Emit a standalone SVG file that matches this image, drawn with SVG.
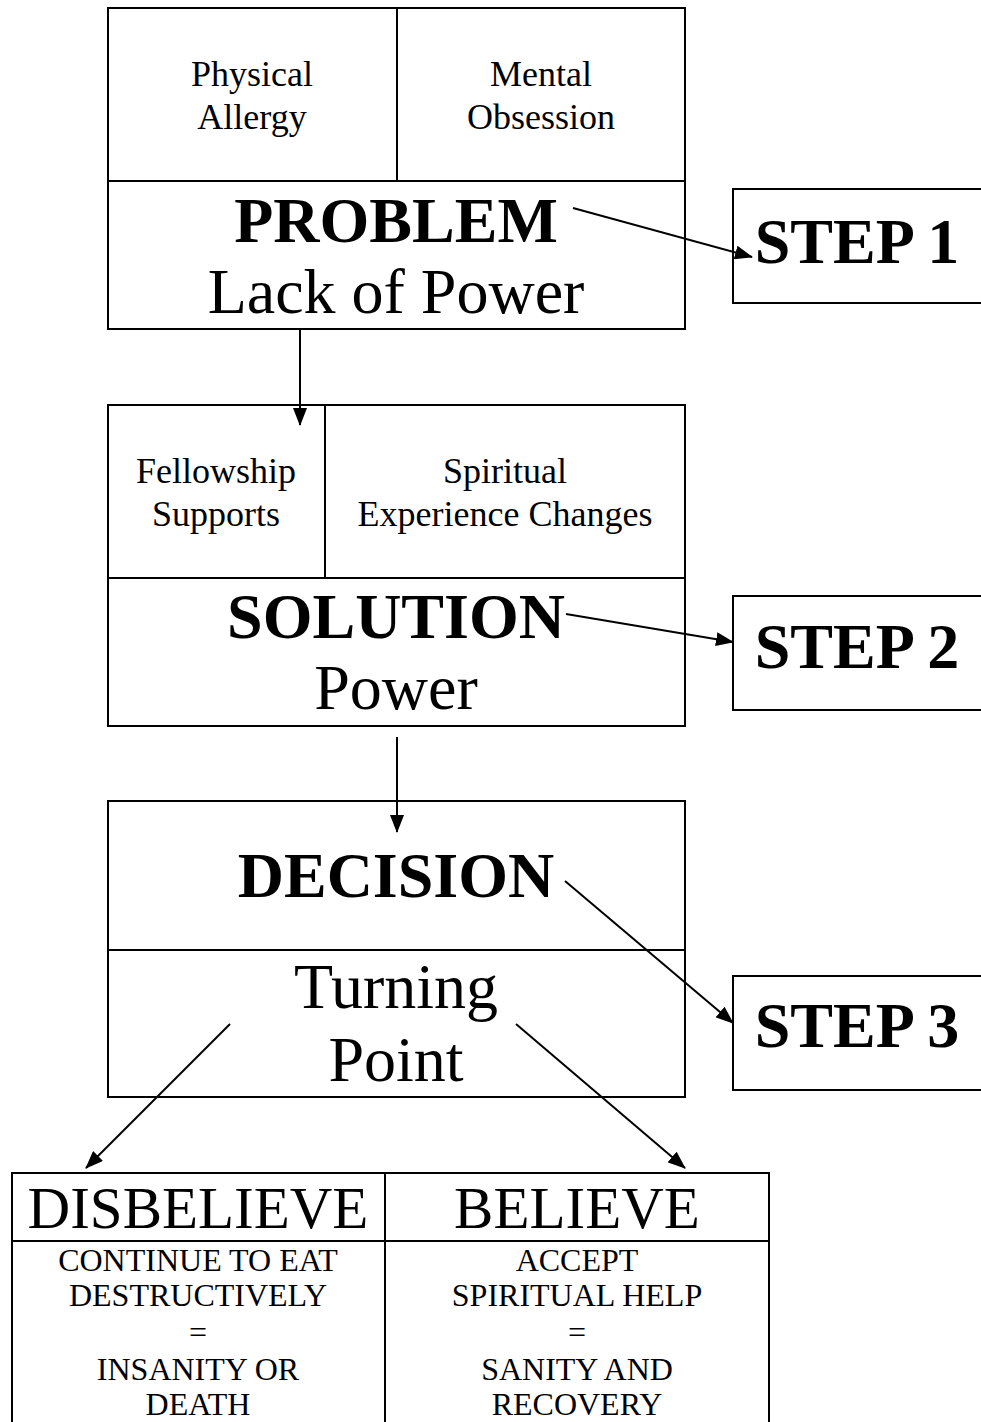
<svg xmlns="http://www.w3.org/2000/svg" width="981" height="1422" viewBox="0 0 981 1422">
<style>
.box{fill:none;stroke:#000;stroke-width:2}
.ln{stroke:#000;stroke-width:2;fill:none}
.t{font-family:"Liberation Serif","Times New Roman",serif;fill:#000;text-anchor:middle}
.s36{font-size:36px}
.s64{font-size:64px}
.b64{font-size:64px;font-weight:bold}
.s58{font-size:59px}
.s30{font-size:32px}
.con{stroke:#000;stroke-width:2;fill:none;marker-end:url(#ah)}
</style>
<defs>
<marker id="ah" viewBox="0 0 18 14" refX="17" refY="7" markerWidth="18" markerHeight="14" markerUnits="userSpaceOnUse" orient="auto">
<path d="M0,0 L18,7 L0,14 Z" fill="#000"/>
</marker>
</defs>
<rect width="981" height="1422" fill="#fff"/>

<g id="problem">
<rect class="box" x="108" y="8" width="577" height="321"/>
<line class="ln" x1="108" y1="181" x2="685" y2="181"/>
<line class="ln" x1="397" y1="8" x2="397" y2="181"/>
<text class="t s36" x="252" y="86">Physical</text>
<text class="t s36" x="252" y="129">Allergy</text>
<text class="t s36" x="541" y="86">Mental</text>
<text class="t s36" x="541" y="129">Obsession</text>
<text class="t b64" x="396" y="242">PROBLEM</text>
<text class="t s64" x="396" y="313">Lack of Power</text>
</g>

<g id="step1">
<rect class="box" x="733" y="189" width="260" height="114"/>
<text class="t b64" x="857" y="263">STEP 1</text>
</g>

<g id="solution">
<rect class="box" x="108" y="405" width="577" height="321"/>
<line class="ln" x1="108" y1="578" x2="685" y2="578"/>
<line class="ln" x1="325" y1="405" x2="325" y2="578"/>
<text class="t s36" x="216" y="483">Fellowship</text>
<text class="t s36" x="216" y="526">Supports</text>
<text class="t s36" x="505" y="483">Spiritual</text>
<text class="t s36" x="505" y="526">Experience Changes</text>
<text class="t b64" x="396" y="638">SOLUTION</text>
<text class="t s64" x="396" y="709">Power</text>
</g>

<g id="step2">
<rect class="box" x="733" y="596" width="260" height="114"/>
<text class="t b64" x="857" y="668">STEP 2</text>
</g>

<g id="decision">
<rect class="box" x="108" y="801" width="577" height="296"/>
<line class="ln" x1="108" y1="950" x2="685" y2="950"/>
<text class="t b64" x="396" y="897">DECISION</text>
<text class="t s64" x="396" y="1008">Turning</text>
<text class="t s64" x="396" y="1081">Point</text>
</g>

<g id="step3">
<rect class="box" x="733" y="976" width="260" height="114"/>
<text class="t b64" x="857" y="1047">STEP 3</text>
</g>

<g id="outcomes">
<rect class="box" x="12" y="1173" width="757" height="260"/>
<line class="ln" x1="12" y1="1241" x2="769" y2="1241"/>
<line class="ln" x1="385" y1="1173" x2="385" y2="1433"/>
<text class="t s58" x="198" y="1228">DISBELIEVE</text>
<text class="t s58" x="577" y="1228">BELIEVE</text>
<text class="t s30" x="198" y="1271">CONTINUE TO EAT</text>
<text class="t s30" x="198" y="1306">DESTRUCTIVELY</text>
<text class="t s30" x="198" y="1343">=</text>
<text class="t s30" x="198" y="1380">INSANITY OR</text>
<text class="t s30" x="198" y="1415">DEATH</text>
<text class="t s30" x="577" y="1271">ACCEPT</text>
<text class="t s30" x="577" y="1306">SPIRITUAL HELP</text>
<text class="t s30" x="577" y="1343">=</text>
<text class="t s30" x="577" y="1380">SANITY AND</text>
<text class="t s30" x="577" y="1415">RECOVERY</text>
</g>

<g id="connectors">
<line class="con" x1="573" y1="208" x2="752" y2="257"/>
<line class="con" x1="300" y1="330" x2="300" y2="425"/>
<line class="con" x1="566" y1="614" x2="733" y2="642"/>
<line class="con" x1="397" y1="737" x2="397" y2="832"/>
<line class="con" x1="565" y1="881" x2="733" y2="1023"/>
<line class="con" x1="230" y1="1024" x2="86" y2="1168"/>
<line class="con" x1="516" y1="1024" x2="685" y2="1168"/>
</g>
</svg>
